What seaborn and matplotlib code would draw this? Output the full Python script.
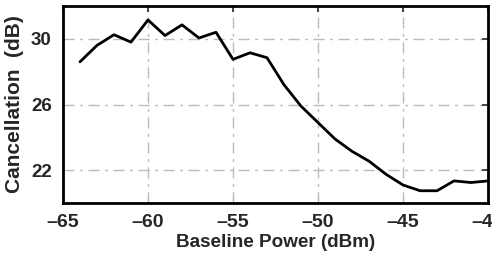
import numpy as np
import pandas as pd
import matplotlib
matplotlib.use('Agg')
import matplotlib.pyplot as plt
import seaborn as sns

# Cancellation vs. baseline power
baseline_power = [-64, -63, -62, -61, -60, -59, -58, -57, -56, -55, -54, -53,
                  -52, -51, -50, -49, -48, -47, -46, -45, -44, -43, -42, -41, -40]
cancellation = [28.6, 29.6, 30.25, 29.8, 31.15, 30.2, 30.85, 30.05, 30.4, 28.75, 29.15, 28.85,
                27.2, 25.9, 24.9, 23.9, 23.15, 22.55, 21.75, 21.1, 20.75, 20.75, 21.35, 21.25, 21.35]
x_ticks = [-65, -60, -55, -50, -45, -40]
y_ticks = [22, 26, 30]

sns.set_style('white')
plt.rcParams['font.family'] = ['Liberation Sans', 'DejaVu Sans']
plt.rcParams['font.weight'] = 'bold'

df = pd.DataFrame({'power': baseline_power, 'cancel': cancellation})

fig = plt.figure(figsize=(4.92, 2.6), dpi=100)
ax = fig.add_axes([0.128, 0.219, 0.864, 0.758])
sns.lineplot(data=df, x='power', y='cancel', color='black', linewidth=2, ax=ax)

ax.set_xlim(-65, -40)
ax.set_ylim(20, 32)
ax.set_xticks(x_ticks)
ax.set_yticks(y_ticks)
ax.set_xticklabels(['\u2013' + str(abs(v)) for v in x_ticks])
ax.tick_params(direction='in', length=4, width=1.2, top=True, right=True)
ax.tick_params(axis='x', labelsize=14, pad=8)
ax.tick_params(axis='y', labelsize=13.5, pad=8)
for lab in ax.get_xticklabels() + ax.get_yticklabels():
    lab.set_fontweight('bold')
ax.grid(True, color='#bbbbbb', linestyle='-.', linewidth=1, dashes=(8, 4, 2, 4))
for s in ax.spines.values():
    s.set_linewidth(2)
    s.set_color('black')
ax.set_xlabel('Baseline Power (dBm)', fontsize=13.6, fontweight='bold', labelpad=2)
ax.set_ylabel('Cancellation  (dB)', fontsize=15, fontweight='bold', labelpad=5)

plt.savefig('out.png', dpi=100)
